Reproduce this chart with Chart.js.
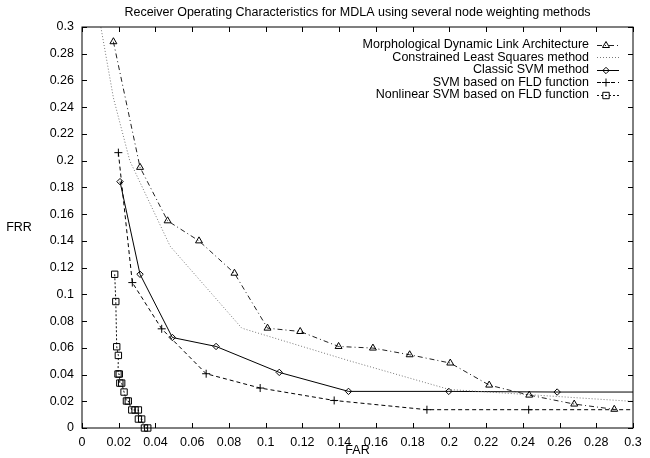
<!DOCTYPE html>
<html>
<head>
<meta charset="utf-8">
<script src="https://cdn.jsdelivr.net/npm/chart.js@4/dist/chart.umd.min.js"></script>
<style>
  html, body { margin: 0; padding: 0; background: #fff; }
</style>
</head>
<body>
<canvas id="roc" width="650" height="458"></canvas>
<script>
// values (FAR on x, FRR on y)
const farMDLA = [0.0171, 0.0316, 0.0466, 0.0637, 0.083, 0.101, 0.1188, 0.1397, 0.1584, 0.1784, 0.2005, 0.2217, 0.2435, 0.268, 0.2898];
const frrMDLA = [0.289, 0.195, 0.155, 0.140, 0.1158, 0.0747, 0.0722, 0.061, 0.0598, 0.0548, 0.0486, 0.0321, 0.0246, 0.0179, 0.014];

const farCLS = [0.0100, 0.0171, 0.026, 0.048, 0.087, 0.145, 0.2, 0.3];
const frrCLS = [0.302, 0.247, 0.200, 0.136, 0.0747, 0.0505, 0.0288, 0.0199];

const farSVM = [0.0207, 0.0316, 0.0492, 0.073, 0.1074, 0.1451, 0.1997, 0.2587, 0.3];
const frrSVM = [0.1843, 0.115, 0.0677, 0.061, 0.0416, 0.0274, 0.0274, 0.0269, 0.0269];

const farFLD = [0.0198, 0.0274, 0.0434, 0.0676, 0.097, 0.1373, 0.1878, 0.2432, 0.3];
const frrFLD = [0.206, 0.1088, 0.0742, 0.0406, 0.0299, 0.0206, 0.0137, 0.0137, 0.0137];

const farNL = [0.0178, 0.0184, 0.0189, 0.0198, 0.0196, 0.0203, 0.0206, 0.0216, 0.0229, 0.0242, 0.0252, 0.0271, 0.0289, 0.0307, 0.0307, 0.0325, 0.0340, 0.0358];
const frrNL = [0.115, 0.0946, 0.0608, 0.0543, 0.0404, 0.0404, 0.0336, 0.0336, 0.0269, 0.0202, 0.0202, 0.0135, 0.0135, 0.0135, 0.0067, 0.0067, 0, 0];

const seriesNames = [
    'Morphological Dynamic Link Architecture',
    'Constrained Least Squares method',
    'Classic SVM method',
    'SVM based on FLD function',
    'Nonlinear SVM based on FLD function'
];

const FONT = '"Liberation Sans", Arial, Helvetica, sans-serif';
const FSIZE = 12.5;

function pts(xs, ys) {
    return xs.map((x, i) => ({ x: x, y: ys[i] }));
}

// the curves running to the right edge have no marker there
const edgeRadius = r => ctx => (ctx.raw && ctx.raw.x >= 0.3 ? 0 : r);

const datasets = [
    { label: seriesNames[0], data: pts(farMDLA, frrMDLA), borderColor: '#222', borderDash: [5, 3, 1, 3],
      pointStyle: 'triangle', pointRadius: 4, mark: 'tri' },
    { label: seriesNames[1], data: pts(farCLS, frrCLS), borderColor: '#777', borderDash: [1, 2],
      pointRadius: 0, mark: null },
    { label: seriesNames[2], data: pts(farSVM, frrSVM), borderColor: '#000', borderDash: [],
      pointStyle: 'rectRot', pointRadius: edgeRadius(3.2), mark: 'dia' },
    { label: seriesNames[3], data: pts(farFLD, frrFLD), borderColor: '#000', borderDash: [4, 3],
      pointStyle: 'cross', pointRadius: edgeRadius(4), mark: 'plus' },
    { label: seriesNames[4], data: pts(farNL, frrNL), borderColor: '#111', borderDash: [2, 2],
      pointStyle: 'rect', pointRadius: 4.5, mark: 'sq', clip: false }
];
datasets.forEach(d => {
    d.borderWidth = 1;
    d.pointBorderColor = '#000';
    d.pointBackgroundColor = 'rgba(0,0,0,0)';
    d.pointBorderWidth = 1;
    d.tension = 0;
    d.fill = false;
});

function drawMark(ctx, kind, x, y) {
    ctx.beginPath();
    if (kind === 'tri') {
        ctx.moveTo(x, y - 4); ctx.lineTo(x + 3.5, y + 2); ctx.lineTo(x - 3.5, y + 2); ctx.closePath();
    } else if (kind === 'dia') {
        ctx.moveTo(x, y - 3.2); ctx.lineTo(x + 3.2, y); ctx.lineTo(x, y + 3.2); ctx.lineTo(x - 3.2, y); ctx.closePath();
    } else if (kind === 'plus') {
        ctx.moveTo(x - 4, y); ctx.lineTo(x + 4, y); ctx.moveTo(x, y - 4); ctx.lineTo(x, y + 4);
    } else if (kind === 'sq') {
        ctx.rect(x - 3.2, y - 3.2, 6.4, 6.4);
    }
    ctx.stroke();
}

// gnuplot-like frame, inward ticks, title, axis names and legend
const framePlugin = {
    id: 'frame',
    afterDraw(chart) {
        const ctx = chart.ctx;
        const a = chart.chartArea;
        const xs = chart.scales.x, ys = chart.scales.y;
        ctx.save();
        ctx.strokeStyle = '#000';
        ctx.lineWidth = 1;
        ctx.setLineDash([]);
        ctx.strokeRect(a.left, a.top, a.right - a.left, a.bottom - a.top);
        ctx.beginPath();
        xs.ticks.forEach(t => {
            const px = Math.round(xs.getPixelForValue(t.value)) + 0.5;
            ctx.moveTo(px, a.bottom); ctx.lineTo(px, a.bottom - 5);
            ctx.moveTo(px, a.top); ctx.lineTo(px, a.top + 5);
        });
        ys.ticks.forEach(t => {
            const py = Math.round(ys.getPixelForValue(t.value)) + 0.5;
            ctx.moveTo(a.left, py); ctx.lineTo(a.left + 5, py);
            ctx.moveTo(a.right, py); ctx.lineTo(a.right - 5, py);
        });
        ctx.stroke();

        ctx.fillStyle = '#000';
        ctx.font = FSIZE + 'px ' + FONT;
        ctx.textAlign = 'center';
        ctx.textBaseline = 'middle';
        ctx.fillText('Receiver Operating Characteristics for MDLA using several node weighting methods', (a.left + a.right) / 2, 13);
        ctx.fillText('FAR', (a.left + a.right) / 2, 451);
        ctx.fillText('FRR', 19, 228);

        // legend, text right aligned with the sample to its right
        chart.data.datasets.forEach((d, i) => {
            const y = 45 + i * 12.4;
            ctx.fillStyle = '#000';
            ctx.textAlign = 'right';
            ctx.fillText(d.label, 589, y);
            ctx.strokeStyle = d.borderColor;
            ctx.setLineDash(d.borderDash);
            ctx.beginPath();
            ctx.moveTo(597, Math.round(y) + 0.5);
            ctx.lineTo(619, Math.round(y) + 0.5);
            ctx.stroke();
            ctx.setLineDash([]);
            ctx.strokeStyle = '#000';
            if (d.mark) drawMark(ctx, d.mark, 606, Math.round(y) + 0.5);
        });
        ctx.restore();
    }
};

const tickFmt = v => String(Math.round(v * 100) / 100);

new Chart(document.getElementById('roc'), {
    type: 'line',
    data: { datasets: datasets },
    options: {
        responsive: false,
        animation: false,
        devicePixelRatio: 1,
        layout: { padding: { top: 27, right: 17, left: 0, bottom: 0 } },
        plugins: { legend: { display: false }, tooltip: { enabled: false }, title: { display: false } },
        scales: {
            x: {
                type: 'linear', min: 0, max: 0.3,
                grid: { display: false, drawTicks: false },
                border: { display: false },
                ticks: { stepSize: 0.02, padding: 7, color: '#000', font: { size: FSIZE, family: FONT },
                         callback: tickFmt, maxRotation: 0, autoSkip: false },
                afterFit: s => { s.height = 30; }
            },
            y: {
                type: 'linear', min: 0, max: 0.3,
                grid: { display: false, drawTicks: false },
                border: { display: false },
                ticks: { stepSize: 0.02, padding: 8, color: '#000', font: { size: FSIZE, family: FONT },
                         callback: tickFmt, autoSkip: false },
                afterFit: s => { s.width = 82; }
            }
        }
    },
    plugins: [framePlugin]
});
</script>
</body>
</html>
